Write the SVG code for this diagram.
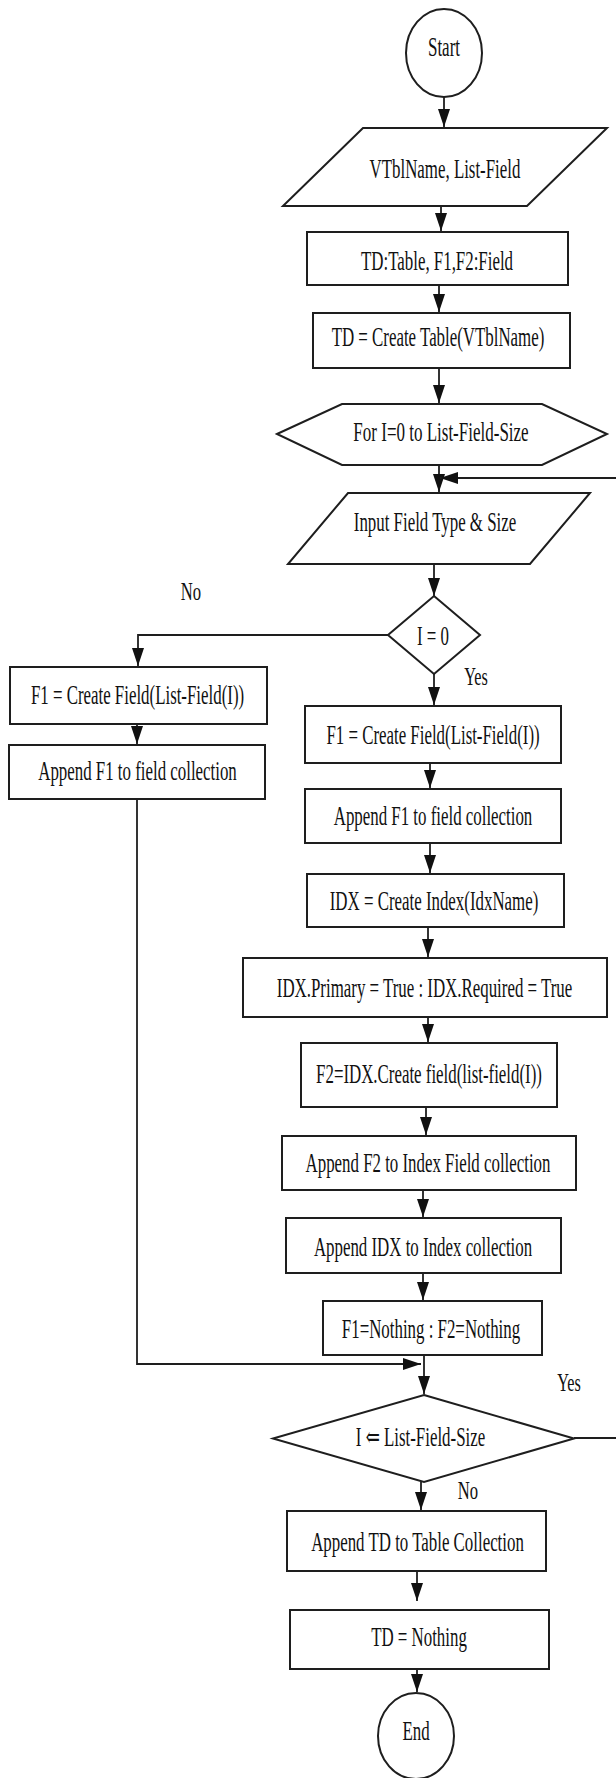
<svg xmlns="http://www.w3.org/2000/svg" width="616" height="1778" viewBox="0 0 616 1778">
<style>
.s{fill:#fff;stroke:#1e1e1e;stroke-width:2}
.c{fill:none;stroke:#1e1e1e;stroke-width:1.8}
text{font-family:"Liberation Serif","Times New Roman","DejaVu Serif",serif;font-size:27px;fill:#111;text-anchor:middle}
.lb{font-size:26px}
</style>
<defs>
<marker id="ah" markerUnits="userSpaceOnUse" markerWidth="19" markerHeight="12" refX="18" refY="6" orient="auto">
<path d="M0,0 L18,6 L0,12 z" fill="#111"/>
</marker>
</defs>
<rect width="616" height="1778" fill="#fff"/>
<g id="connectors">
<path class="c" d="M444,97 V127" marker-end="url(#ah)"/>
<path class="c" d="M441,206 V231" marker-end="url(#ah)"/>
<path class="c" d="M439,285 V312" marker-end="url(#ah)"/>
<path class="c" d="M439,368 V403" marker-end="url(#ah)"/>
<path class="c" d="M439,465 V492" marker-end="url(#ah)"/>
<path class="c" d="M434,564 V596" marker-end="url(#ah)"/>
<path class="c" d="M388,635 H138 V666" marker-end="url(#ah)"/>
<path class="c" d="M137,724 V744" marker-end="url(#ah)"/>
<path class="c" d="M434,674 V705" marker-end="url(#ah)"/>
<path class="c" d="M430,763 V788" marker-end="url(#ah)"/>
<path class="c" d="M430,843 V873" marker-end="url(#ah)"/>
<path class="c" d="M428,927 V957" marker-end="url(#ah)"/>
<path class="c" d="M428,1017 V1042" marker-end="url(#ah)"/>
<path class="c" d="M426,1107 V1135" marker-end="url(#ah)"/>
<path class="c" d="M423,1190 V1217" marker-end="url(#ah)"/>
<path class="c" d="M423,1273 V1300" marker-end="url(#ah)"/>
<path class="c" d="M424,1355 V1394" marker-end="url(#ah)"/>
<path class="c" d="M137,799 V1364 H421" marker-end="url(#ah)"/>
<path class="c" d="M421,1482 V1510" marker-end="url(#ah)"/>
<path class="c" d="M417,1571 V1601" marker-end="url(#ah)"/>
<path class="c" d="M417,1669 V1692" marker-end="url(#ah)"/>
<path class="c" d="M574,1438 H620 V478 H440" marker-end="url(#ah)"/>
</g>
<g id="start">
<ellipse class="s" cx="444" cy="53" rx="38" ry="44"/>
<text transform="translate(444,56) scale(0.63,1)">Start</text>
</g>
<g id="input1">
<polygon class="s" points="363,128 607,128 527,206 283,206"/>
<text transform="translate(445,178) scale(0.625,1)">VTblName, List-Field</text>
</g>
<g id="decl">
<rect class="s" x="307" y="232" width="261" height="53"/>
<text transform="translate(437,270) scale(0.625,1)">TD:Table, F1,F2:Field</text>
</g>
<g id="createTable">
<rect class="s" x="313" y="313" width="257" height="55"/>
<text transform="translate(438,346) scale(0.625,1)">TD = Create Table(VTblName)</text>
</g>
<g id="forLoop">
<polygon class="s" points="277,434 342,404 542,404 607,434 542,465 342,465"/>
<text transform="translate(441,441) scale(0.63,1)">For I=0 to List-Field-Size</text>
</g>
<g id="input2">
<polygon class="s" points="348,493 590,493 530,564 288,564"/>
<text transform="translate(435,531) scale(0.625,1)">Input Field Type &amp; Size</text>
</g>
<g id="decision1">
<polygon class="s" points="434,596 480,635 434,674 388,635"/>
<text transform="translate(433,645) scale(0.625,1)">I = 0</text>
<text class="lb" transform="translate(191,600) scale(0.64,1)">No</text>
<text class="lb" transform="translate(476,685) scale(0.625,1)">Yes</text>
</g>
<g id="leftCreate">
<rect class="s" x="10" y="667" width="257" height="57"/>
<text transform="translate(137.5,704) scale(0.625,1)">F1 = Create Field(List-Field(I))</text>
</g>
<g id="leftAppend">
<rect class="s" x="9" y="745" width="256" height="54"/>
<text transform="translate(137.5,780) scale(0.625,1)">Append F1 to field collection</text>
</g>
<g id="r1">
<rect class="s" x="305" y="706" width="256" height="57"/>
<text transform="translate(433,744) scale(0.625,1)">F1 = Create Field(List-Field(I))</text>
</g>
<g id="r2">
<rect class="s" x="305" y="789" width="256" height="54"/>
<text transform="translate(433,825) scale(0.625,1)">Append F1 to field collection</text>
</g>
<g id="r3">
<rect class="s" x="307" y="874" width="257" height="53"/>
<text transform="translate(434,910) scale(0.625,1)">IDX = Create Index(IdxName)</text>
</g>
<g id="r4">
<rect class="s" x="243" y="958" width="364" height="59"/>
<text transform="translate(424.5,997) scale(0.625,1)">IDX.Primary = True : IDX.Required = True</text>
</g>
<g id="r5">
<rect class="s" x="301" y="1043" width="256" height="64"/>
<text transform="translate(429,1083) scale(0.625,1)">F2=IDX.Create field(list-field(I))</text>
</g>
<g id="r6">
<rect class="s" x="282" y="1136" width="294" height="54"/>
<text transform="translate(428,1172) scale(0.625,1)">Append F2 to Index Field collection</text>
</g>
<g id="r7">
<rect class="s" x="286" y="1218" width="275" height="55"/>
<text transform="translate(423,1256) scale(0.625,1)">Append IDX to Index collection</text>
</g>
<g id="r8">
<rect class="s" x="323" y="1301" width="219" height="54"/>
<text transform="translate(431,1338) scale(0.625,1)">F1=Nothing : F2=Nothing</text>
</g>
<g id="decision2">
<polygon class="s" points="424,1395 574,1438.5 424,1482 273,1438.5"/>
<text transform="translate(420.5,1446) scale(0.625,1)">I ⇐ List-Field-Size</text>
<text class="lb" transform="translate(569,1391) scale(0.625,1)">Yes</text>
<text class="lb" transform="translate(468,1499) scale(0.64,1)">No</text>
</g>
<g id="appendTD">
<rect class="s" x="287" y="1511" width="259" height="60"/>
<text transform="translate(417.5,1551) scale(0.625,1)">Append TD to Table Collection</text>
</g>
<g id="tdNothing">
<rect class="s" x="290" y="1610" width="259" height="59"/>
<text transform="translate(419,1646) scale(0.625,1)">TD = Nothing</text>
</g>
<g id="end">
<ellipse class="s" cx="416" cy="1736" rx="38" ry="43"/>
<text transform="translate(416,1740) scale(0.625,1)">End</text>
</g>
</svg>
